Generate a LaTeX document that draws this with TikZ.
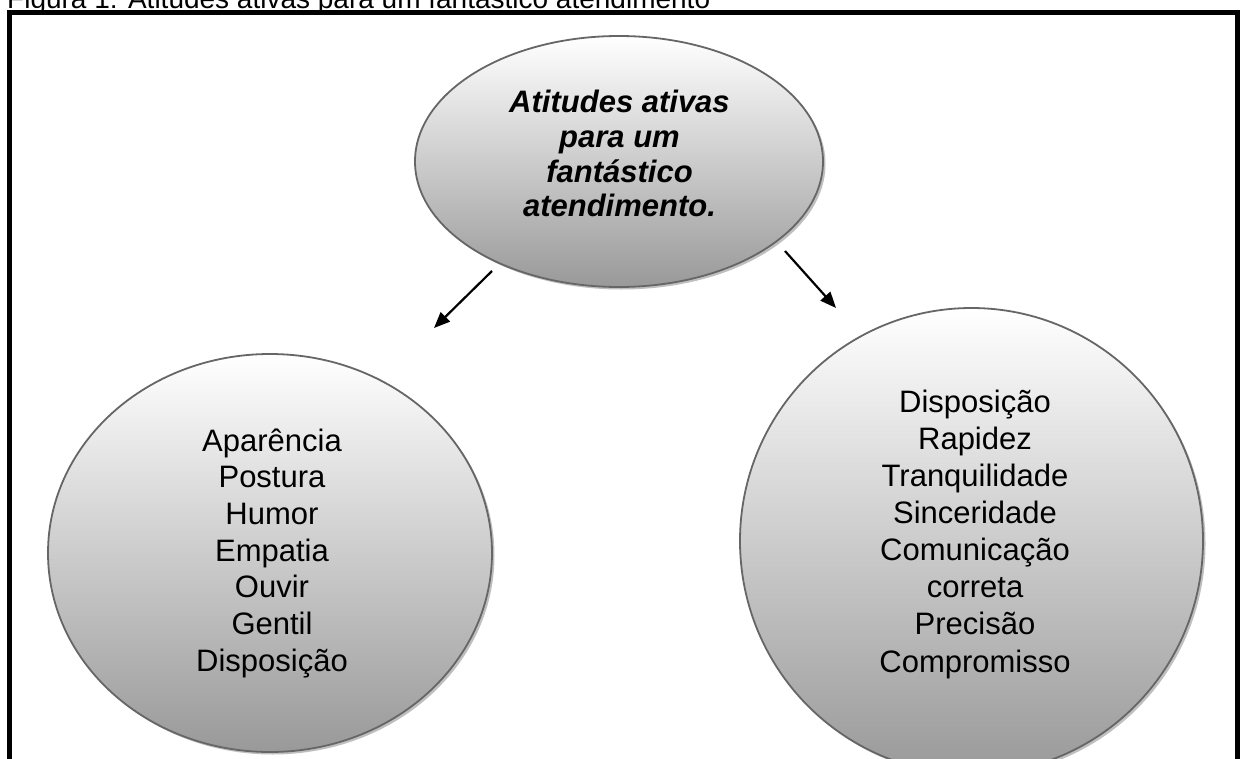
\documentclass[tikz,border=0pt]{standalone}
\usepackage{fontspec}
\setmainfont{Liberation Sans}
\usetikzlibrary{shapes.geometric,shadows,arrows.meta}
\begin{document}
\begin{tikzpicture}[x=1pt,y=-1pt,
  blob/.style={ellipse, draw=black!60, line width=1.8pt, top color=white, bottom color=black!40,
    inner sep=0pt, outer sep=0pt,
    drop shadow={shadow xshift=2.5pt, shadow yshift=-2.5pt, fill=black!25, opacity=1}},
  lbl/.style={align=center, inner sep=0pt},
  conn/.style={line width=2.2pt, -{Triangle[length=16pt,width=13pt]}},
  frame/.style={line width=5pt}]
\clip (0,0) rectangle (1240,758);
\fill[white] (0,0) rectangle (1240,758);
% title and frame
\node[anchor=base west, inner sep=0pt, font=\fontsize{28}{34}\selectfont] (title) at (7,8)
  {Figura 1: Atitudes ativas para um fantástico atendimento};
\draw[frame] (9.5,900) -- (9.5,12.5) -- (1237.5,12.5) -- (1237.5,900);
% shapes
\node[blob, minimum width=408pt, minimum height=251pt] (top) at (619,161.5) {};
\node[blob, minimum width=444pt, minimum height=398pt] (left) at (270,553) {};
\node[blob, minimum width=463pt, minimum height=466pt] (right) at (971.5,541) {};
% texts
\node[lbl, font=\bfseries\itshape\fontsize{31}{34.7}\selectfont] (toptext) at (619.5,153.7)
  {Atitudes ativas\\para um\\fantástico\\atendimento.};
\node[lbl, font=\fontsize{31}{36.67}\selectfont] (lefttext) at (272,553.3)
  {Aparência\\Postura\\Humor\\Empatia\\Ouvir\\Gentil\\Disposição};
\node[lbl, font=\fontsize{31}{37.14}\selectfont] (righttext) at (975,534)
  {Disposição\\Rapidez\\Tranquilidade\\Sinceridade\\Comunicação\\correta\\Precisão\\Compromisso};
% connectors
\coordinate (a1s) at (492,271);
\coordinate (a1e) at (434,328);
\coordinate (a2s) at (785,251);
\coordinate (a2e) at (836,308);
\draw[conn] (a1s) -- (a1e);
\draw[conn] (a2s) -- (a2e);
\end{tikzpicture}
\end{document}
